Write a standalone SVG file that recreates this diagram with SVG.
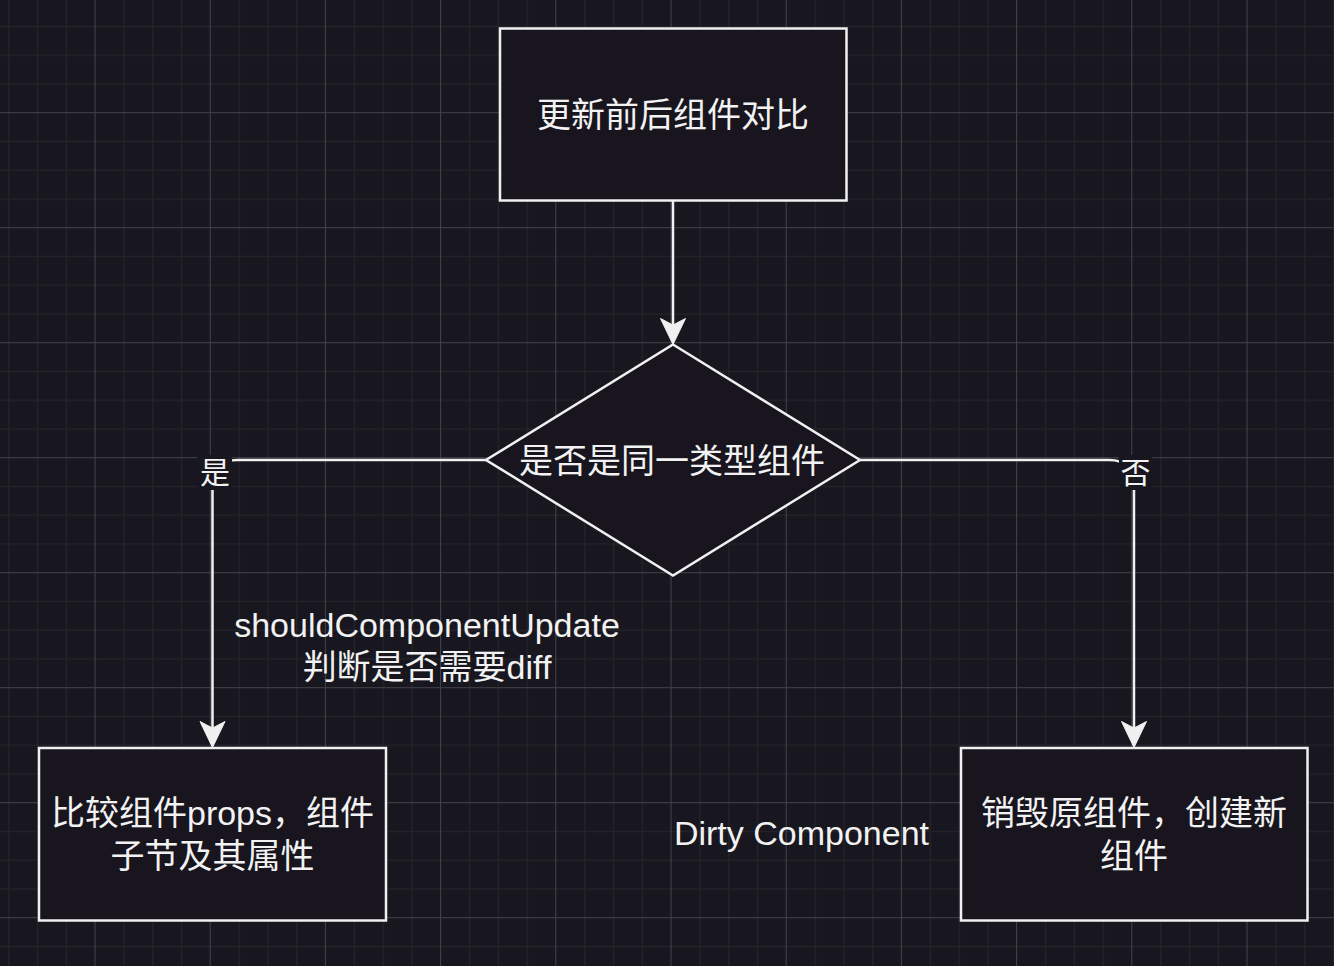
<svg xmlns="http://www.w3.org/2000/svg" width="1334" height="966" viewBox="0 0 1334 966">
  <style>
    .box { fill: #18151f; stroke: #f0f0f0; stroke-width: 2.5; }
    .edge { fill: none; stroke: #f0f0f0; stroke-width: 2.5; }
    .head { fill: #f0f0f0; stroke: #f0f0f0; stroke-width: 1; stroke-linejoin: miter; }
    .t { font-family: "Liberation Sans", "Noto Sans CJK SC", sans-serif; font-size: 34px; fill: #f2f2f2; text-anchor: middle; }
    .lbl { font-family: "Liberation Sans", "Noto Sans CJK SC", sans-serif; font-size: 30px; fill: #f2f2f2; text-anchor: middle; }
    .lblbg { fill: #18171f; }
  </style>
  <defs>
    <pattern id="grid" patternUnits="userSpaceOnUse" x="94.5" y="112.2" width="115.2" height="115">
      <rect x="28.8" y="0" width="1.2" height="115" fill="#25242a"/>
      <rect x="57.6" y="0" width="1.2" height="115" fill="#25242a"/>
      <rect x="86.4" y="0" width="1.2" height="115" fill="#25242a"/>
      <rect x="0" y="28.75" width="115.2" height="1.2" fill="#25242a"/>
      <rect x="0" y="57.5" width="115.2" height="1.2" fill="#25242a"/>
      <rect x="0" y="86.25" width="115.2" height="1.2" fill="#25242a"/>
      <rect x="0" y="0" width="1" height="115" fill="#44434a"/>
      <rect x="0" y="0" width="115.2" height="1" fill="#44434a"/>
    </pattern>
  </defs>
  <rect x="0" y="0" width="1334" height="966" fill="#18171f"/>
  <rect x="0" y="0" width="1334" height="966" fill="url(#grid)"/>

  <g id="edges">
    <g id="edge-top">
      <path class="edge" d="M673,201 V326"/>
      <path class="head" d="M673,344.5 L660.5,318.5 L673,325 L685.5,318.5 Z"/>
    </g>
    <g id="edge-yes">
      <path class="edge" d="M486,460 H238 Q212.5,460 212.5,485 V729"/>
      <path class="head" d="M212.5,747.5 L200,721.5 L212.5,728 L225,721.5 Z"/>
      <rect class="lblbg" x="197" y="455" width="35" height="35"/>
      <text class="lbl" x="215" y="483">是</text>
    </g>
    <g id="edge-no">
      <path class="edge" d="M860,460 H1109 Q1134,460 1134,485 V729"/>
      <path class="head" d="M1134,747.5 L1121.5,721.5 L1134,728 L1146.5,721.5 Z"/>
      <rect class="lblbg" x="1119" y="455" width="33" height="35"/>
      <text class="lbl" x="1135.5" y="483">否</text>
    </g>
    <g id="edge-yes-note">
      <text class="t" x="427" y="637">shouldComponentUpdate</text>
      <text class="t" x="427" y="679">判断是否需要diff</text>
    </g>
  </g>

  <g id="node-start">
    <rect class="box" x="500" y="28.5" width="346.5" height="172"/>
    <text class="t" x="673" y="126.5">更新前后组件对比</text>
  </g>

  <g id="node-decision">
    <polygon class="box" points="673,344.5 860,460 673,575.5 486,460"/>
    <text class="t" x="672" y="472.5">是否是同一类型组件</text>
  </g>

  <g id="node-compare">
    <rect class="box" x="39" y="748" width="347" height="172.5"/>
    <text class="t" x="212.5" y="825">比较组件props，组件</text>
    <text class="t" x="212.5" y="868">子节及其属性</text>
  </g>

  <g id="node-destroy">
    <rect class="box" x="961" y="748" width="346.5" height="172.5"/>
    <text class="t" x="1134" y="825">销毁原组件，创建新</text>
    <text class="t" x="1134" y="868">组件</text>
  </g>

  <g id="node-dirty">
    <text class="t" x="801.5" y="845">Dirty Component</text>
  </g>
</svg>
